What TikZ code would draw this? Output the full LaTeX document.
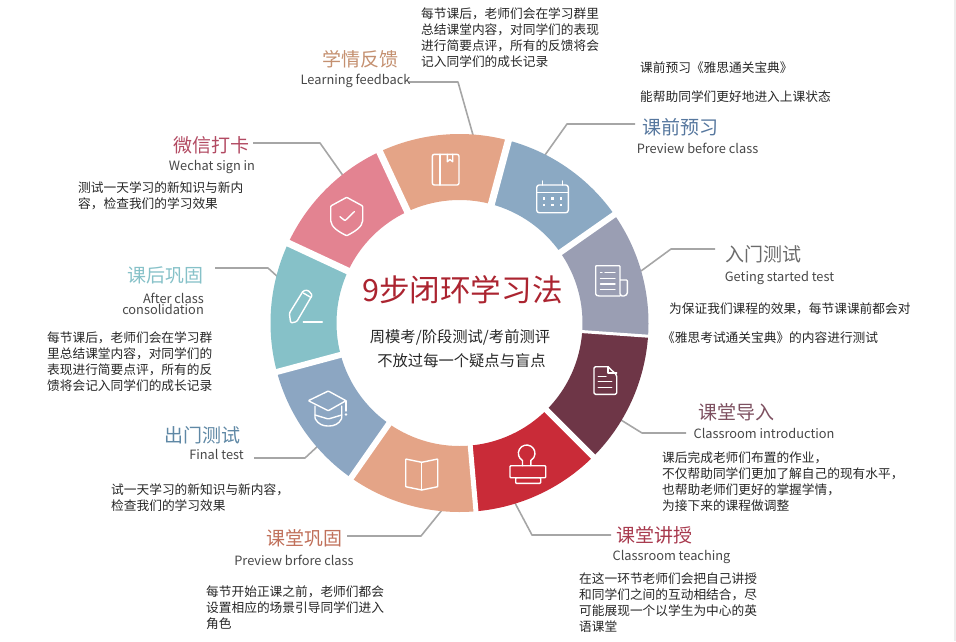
\documentclass[tikz,border=0pt]{standalone}
\usepackage{fontspec}
\setmainfont{Noto Sans CJK SC}
\definecolor{cOrange}{HTML}{E4A487}
\definecolor{cBlue}{HTML}{8BA9C3}
\definecolor{cGrey}{HTML}{9A9EB3}
\definecolor{cMaroon}{HTML}{6E3647}
\definecolor{cRed}{HTML}{C92B38}
\definecolor{cBlueB}{HTML}{8CA6C2}
\definecolor{cTeal}{HTML}{86C1C8}
\definecolor{cPink}{HTML}{E38391}
\tikzset{
  body/.style={inner sep=0pt,anchor=north west,align=left,text=black!85,font=\fontsize{12.7}{16}\selectfont},
  bodywide/.style={body,font=\fontsize{12.7}{29}\selectfont},
  ttl/.style={inner sep=0pt,font=\fontsize{19}{21}\selectfont},
  eng/.style={inner sep=0pt,text=black!72,font=\fontsize{12.8}{11}\selectfont},
  conn/.style={draw=black!35,line width=1.6pt,line join=round},
  icon/.style={draw=white,line width=1.4pt,line join=round,line cap=round,rounded corners=0.8pt},
}
\begin{document}
\begin{tikzpicture}[x=1pt,y=-1pt]
\useasboundingbox (0,0) rectangle (956,641);
\fill[black!7] (953.5,0) rectangle (956,641);
% connector ends
\coordinate (a1) at (409,82); \coordinate (a2) at (458,82); \coordinate (a3) at (473,135);
\coordinate (b1) at (635,124); \coordinate (b2) at (567,124); \coordinate (b3) at (545,155);
\coordinate (g1) at (715,249); \coordinate (g2) at (671,249); \coordinate (g3) at (641,271);
\coordinate (m1) at (686,433); \coordinate (m2) at (642,433); \coordinate (m3) at (621,420);
\coordinate (r1) at (611,535); \coordinate (r2) at (532,535); \coordinate (r3) at (515,503);
\coordinate (o1) at (347,536); \coordinate (o2) at (421,536); \coordinate (o3) at (442,510);
\coordinate (f1) at (254,458); \coordinate (f2) at (305,458); \coordinate (f3) at (319,445);
\coordinate (t1) at (215,268); \coordinate (t2) at (268,268); \coordinate (t3) at (279,278);
\coordinate (p1) at (253,143); \coordinate (p2) at (320,143); \coordinate (p3) at (344,177);
\foreach \n in {a,b,g,m,r,o,f,t,p}{\draw[conn] (\n1) -- (\n2) -- (\n3);}
% ring
\begin{scope}[shift={(459.5,323)},y=1pt]
  \foreach \s/\e/\c in {75/115/cOrange,35/75/cBlue,-4/35/cGrey,-45/-4/cMaroon,-85/-45/cRed,-125/-85/cOrange,-165/-125/cBlueB,-205/-165/cTeal,-245/-205/cPink}{
    \fill[\c] (\s:189) arc[start angle=\s,end angle=\e,radius=189] -- (\e:123) arc[start angle=\e,end angle=\s,radius=123] -- cycle;
  }
  \foreach \a/\w in {75/7,35/6,-4/3,-45/6,-85/5,-125/6,-165/6,155/7,115/7}{
    \draw[white,line width=\w pt] (\a:118) -- (\a:194);
  }
\end{scope}
% book
\draw[icon,rounded corners=2pt] (432.3,154.3) rectangle (459,185);
\draw[icon] (440,154.3) -- (440,185);
\draw[icon,rounded corners=0pt] (447.3,154.3) -- (447.3,161.7) -- (450,159.5) -- (452.7,161.7) -- (452.7,154.3);
% calendar
\draw[icon,rounded corners=2.5pt] (536.7,185) rectangle (568.3,212.7);
\draw[icon] (536.7,192.7) -- (568.3,192.7);
\draw[icon] (542.7,181) -- (542.7,185) (562.3,181) -- (562.3,185);
\foreach \x in {544,552.3,560.7}{\foreach \y in {198.3,205}{\fill[white] (\x-1.2,\y-1.2) rectangle (\x+1.2,\y+1.2);}}
% newspaper
\draw[icon] (620,296) -- (600,296) .. controls (597,296) and (595.7,295) .. (595.7,293) -- (595.7,265.7) -- (620,265.7) -- (620,293) .. controls (620,295) and (622,296) .. (623,296) .. controls (626,296) and (627.3,294) .. (627.3,292) -- (627.3,280) -- (620,280);
\draw[icon] (600.5,272.3) -- (602,272.3) (605,272.3) -- (615,272.3) (600.5,278.3) -- (615,278.3) (600.5,284) -- (615,284) (600.5,289.3) -- (615,289.3);
% maroon document
\draw[icon,rounded corners=1.5pt] (608,366.7) -- (597,366.7) -- (594,366.7) -- (594,394.3) -- (616.7,394.3) -- (616.7,375) -- (608,366.7);
\draw[icon,rounded corners=0pt] (608,366.7) -- (608,373) -- (616.7,373);
\draw[icon] (598.3,376.7) -- (606,376.7) (598.3,381.7) -- (611.7,381.7) (598.3,387.3) -- (611.7,387.3);
% stamp
\draw[icon,rounded corners=0pt] (522.5,465.7) -- (522.5,460.5) arc[start angle=120,end angle=420,radius=8.3] -- (530.8,465.7);
\draw[icon] (510,465.7) rectangle (545.7,477.7);
\draw[icon] (515.7,477.7) rectangle (540.7,483.3);
% open book
\draw[icon,rounded corners=0.5pt] (421.7,462.3) -- (405.7,459) -- (405.7,486.7) -- (421.7,490) -- (437.7,486.7) -- (437.7,459) -- cycle;
\draw[icon] (421.7,462.3) -- (421.7,490);
% graduation cap
\draw[icon] (328.3,391) -- (346,400.7) -- (328.3,410.7) -- (308.3,400.7) -- cycle;
\draw[icon] (315,406) -- (315,418.3) .. controls (318,424) and (323,426) .. (328.3,426) .. controls (334,426) and (339,424) .. (341.7,418.3) -- (341.7,406);
\draw[icon] (315,415) -- (328.3,419) -- (341.7,415);
\draw[icon] (346,400.7) -- (346,411);
\fill[white] (346,414.5) circle (1.3);
% pencil
\draw[icon,rounded corners=1.2pt] (289.3,313.3) -- (303.3,290.7) -- (308,290.2) -- (312.3,295) -- (296.7,321.7) -- (290.7,323) -- cycle;
\draw[icon] (303.3,293) -- (311,297.5);
\draw[icon] (303.3,322) -- (322.3,322);
% shield
\draw[icon] (346.7,197.3) -- (330.7,206) -- (330.7,220) .. controls (331,227) and (339,232) .. (346.7,235.7) .. controls (354,232) and (362.4,227) .. (362.7,220) -- (362.7,206) -- cycle;
\draw[icon] (340,216.7) -- (345,220.7) -- (354.3,211.7);
% centre
\node[inner sep=0pt,text=cRed!85!black,font=\fontsize{30.6}{32}\selectfont] (centre) at (462.5,290) {9步闭环学习法};
\node[inner sep=0pt,text=black!85,font=\fontsize{15.3}{17}\selectfont] (centreA) at (460,337) {周模考/阶段测试/考前测评};
\node[inner sep=0pt,text=black!85,font=\fontsize{15.3}{17}\selectfont] (centreB) at (461.5,361) {不放过每一个疑点与盲点};
% learning feedback
\node[ttl,text={rgb,255:red,196;green,144;blue,112}] (aT) at (360.5,59) {学情反馈};
\node[eng] (aE) at (355.5,81) {Learning feedback};
\node[body] (aB) at (421,7.5) {每节课后，老师们会在学习群里\\总结课堂内容，对同学们的表现\\进行简要点评，所有的反馈将会\\记入同学们的成长记录};
% preview
\node[ttl,text={rgb,255:red,86;green,119;blue,158}] (bT) at (680,127) {课前预习};
\node[eng] (bE) at (697.5,148) {Preview before class};
\node[bodywide] (bB) at (640,61.5) {课前预习《雅思通关宝典》\\能帮助同学们更好地进入上课状态};
% getting started
\node[ttl,text=black!58] (gT) at (763.5,254) {入门测试};
\node[eng] (gE) at (779.5,278) {Geting started test};
\node[bodywide] (gB) at (662,302.5) {\hspace*{7pt}为保证我们课程的效果，每节课课前都会对\\《雅思考试通关宝典》的内容进行测试};
% classroom introduction
\node[ttl,text={rgb,255:red,125;green,80;blue,96}] (mT) at (736.5,412) {课堂导入};
\node[eng] (mE) at (764,433) {Classroom introduction};
\node[body] (mB) at (662,451.5) {课后完成老师们布置的作业，\\不仅帮助同学们更加了解自己的现有水平，\\也帮助老师们更好的掌握学情，\\为接下来的课程做调整};
% classroom teaching
\node[ttl,text={rgb,255:red,168;green,58;blue,78}] (rT) at (654.5,535) {课堂讲授};
\node[eng] (rE) at (671.5,557) {Classroom teaching};
\node[body] (rB) at (579,572.5) {在这一环节老师们会把自己讲授\\和同学们之间的互动相结合，尽\\可能展现一个以学生为中心的英\\语课堂};
% consolidation
\node[ttl,text={rgb,255:red,192;green,112;blue,90}] (oT) at (304.5,538) {课堂巩固};
\node[eng] (oE) at (294,560) {Preview brfore class};
\node[body] (oB) at (206,585.5) {每节开始正课之前，老师们都会\\设置相应的场景引导同学们进入\\角色};
% final test
\node[ttl,text={rgb,255:red,95;green,136;blue,165}] (fT) at (202,435) {出门测试};
\node[eng] (fE) at (216.5,454) {Final test};
\node[body] (fB) at (111,483.5) {试一天学习的新知识与新内容，\\检查我们的学习效果};
% after class
\node[ttl,text=cTeal] (tT) at (165,275) {课后巩固};
\node[eng,align=right,anchor=east,font=\fontsize{12.8}{11}\selectfont] (tE) at (204,303.5) {After class\\consolidation};
\node[body] (tB) at (47,331.5) {每节课后，老师们会在学习群\\里总结课堂内容，对同学们的\\表现进行简要点评，所有的反\\馈将会记入同学们的成长记录};
% wechat
\node[ttl,text={rgb,255:red,178;green,74;blue,98}] (pT) at (211.5,145) {微信打卡};
\node[eng] (pE) at (212,167) {Wechat sign in};
\node[body] (pB) at (78,181.5) {测试一天学习的新知识与新内\\容，检查我们的学习效果};
\end{tikzpicture}
\end{document}
